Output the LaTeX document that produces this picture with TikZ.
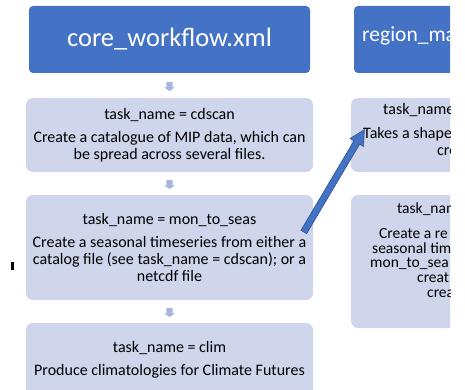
\documentclass[tikz,border=0pt]{standalone}
\usepackage{fontspec}
\setmainfont{Carlito}
\usetikzlibrary{shapes.arrows}
\definecolor{hdr}{HTML}{4472C4}
\definecolor{lbx}{HTML}{CFD5EA}
\definecolor{sarr}{HTML}{A8B6DC}
\definecolor{bedge}{HTML}{2F528F}
\begin{document}
\begin{tikzpicture}[x=1pt,y=-1pt,
  hdrbox/.style={fill=hdr, rounded corners=4pt, minimum width=281pt, minimum height=67pt, text=white, font=\fontsize{26.5}{30}\selectfont, inner sep=0pt},
  lbox/.style={fill=lbx, rounded corners=7pt, minimum width=287pt, align=center, inner sep=0pt, font=\fontsize{16}{17}\selectfont},
  rtxt/.style={anchor=west, inner sep=0pt, text height=9pt, text depth=2pt, font=\fontsize{16}{17}\selectfont},
  rtxs/.style={rtxt, font=\fontsize{15.5}{16}\selectfont},
  sarrow/.style={single arrow, fill=sarr, inner xsep=0pt, inner ysep=3pt, single arrow head extend=2pt, minimum height=9pt, single arrow tip angle=110},
  barrow/.style={single arrow, fill=hdr, draw=bedge, line width=0.6pt, inner xsep=0pt, inner ysep=3pt, single arrow head extend=4.5pt, minimum height=119pt, single arrow tip angle=55}
]
\useasboundingbox (0,0) rectangle (465,390);
\begin{scope}
\clip (0,0) rectangle (450,390);
% left column
\node[hdrbox] (h1) at (169.5,39.5) {core\_workflow.xml};
\node[lbox, minimum height=74pt] (b1) at (169.5,135) {task\_name = cdscan\\[6pt]Create a catalogue of MIP data, which can\\be spread across several files.};
\node[lbox, minimum height=105pt] (b2) at (169.5,247.5) {task\_name = mon\_to\_seas\\[6pt]Create a seasonal timeseries from either a\\catalog file (see task\_name = cdscan); or a\\netcdf file};
\node[lbox, minimum height=74pt] (b3) at (169.5,360) {task\_name = clim\\[6pt]Produce climatologies for Climate Futures};
% right column
\node[hdrbox] (h2) at (494.5,39.5) {};
\node[rtxt, text=white, text height=15pt, text depth=5pt, font=\fontsize{21.5}{26}\selectfont] (h2t) at (362,37) {region\_ma};
\node[lbox, minimum height=74pt] (r1) at (494.5,135) {};
\node[lbox, minimum height=133pt] (r2) at (494.5,261.5) {};
\node[rtxt] (r1a) at (383,111) {task\_name};
\node[rtxt] (r1b) at (363,135) {Takes a shape};
\node[rtxt] (r1c) at (437,152) {cre};
\node[rtxs] (r2a) at (397,210) {task\_nam};
\node[rtxs] (r2b) at (379,235) {Create a re};
\node[rtxs] (r2c) at (372,249.5) {seasonal tim};
\node[rtxs] (r2d) at (370,264) {mon\_to\_sea};
\node[rtxs] (r2e) at (417,278.5) {creat};
\node[rtxs] (r2f) at (427,293.5) {crea};
% small arrows
\path (h1.south) -- (b1.north) node[midway, sloped, sarrow] (s1) {};
\path (b1.south) -- (b2.north) node[midway, sloped, sarrow] (s2) {};
\path (b2.south) -- (b3.north) node[midway, sloped, sarrow] (s3) {};
% big arrow
\coordinate (bt) at (302,235);
\coordinate (bh) at (363,132);
\path (bt) -- (bh) node[midway, sloped, barrow] (ba) {};
\end{scope}
\node[fill=black, minimum width=3pt, minimum height=8pt, inner sep=0pt] (mk) at (12.5,266) {};
\end{tikzpicture}
\end{document}
